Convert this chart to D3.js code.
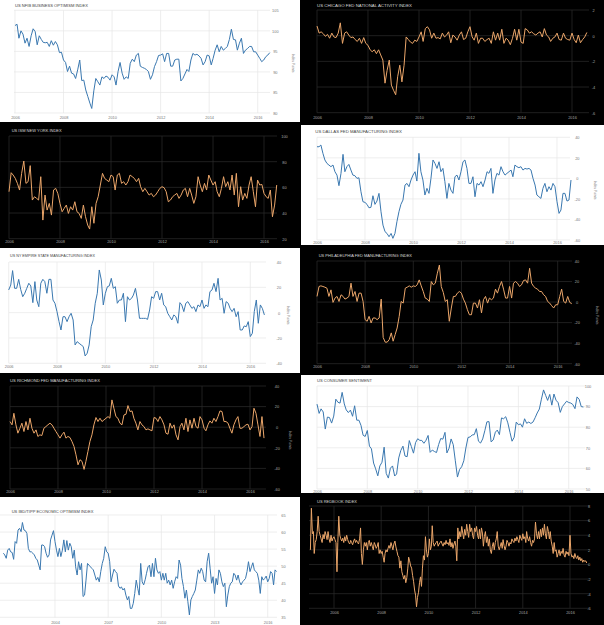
<!DOCTYPE html>
<html><head><meta charset="utf-8">
<script src="https://cdn.jsdelivr.net/npm/d3@7"></script>
<style>
html,body{margin:0;padding:0;background:#000;}
svg{display:block;}
</style>
</head><body>
<svg id="c" width="604" height="625"></svg>
<script>
// ---------------- DATA ----------------
// US NFIB Business Optimism Index, monthly from Jan 2006
const nfib = [101.3,101.6,98.2,100.0,99.2,97.0,98.2,96.2,98.8,100.5,99.8,96.6,
 98.8,97.9,97.2,97.1,97.2,96.2,97.6,96.5,97.4,96.6,94.7,94.8,
 92.9,92.3,90.1,91.4,89.7,89.5,88.4,90.5,92.9,87.9,88.0,85.6,
 84.0,82.4,81.1,85.4,88.4,87.6,86.8,88.8,88.4,89.0,88.7,88.0,
 89.3,88.8,86.8,90.1,92.3,89.7,88.2,88.8,88.4,92.1,93.1,92.5,
 94.1,94.5,91.4,91.1,90.9,90.6,90.1,88.2,89.3,91.3,92.5,94.0,
 94.1,94.4,92.5,94.5,94.5,91.4,91.4,92.9,93.1,93.1,87.8,88.4,
 89.5,90.6,90.1,92.9,94.5,94.1,94.3,93.9,93.3,91.7,92.5,94.1,
 93.9,91.7,93.3,95.3,96.6,94.9,96.2,95.3,95.7,96.2,97.9,100.4,
 97.9,97.8,95.3,97.0,98.2,94.5,95.3,95.7,96.2,96.2,94.9,94.9,
 94.1,93.3,92.5,92.9,93.7,94.1,94.7];
// US Chicago Fed National Activity Index, monthly from Jan 2006
const cfnai = [0.75,0.2,0.3,0.15,-0.05,0.1,-0.2,0.2,-0.1,-0.15,0.2,1.0,
 -0.6,0.2,0.3,0.05,-0.15,-0.1,-0.3,-0.45,-0.2,-0.6,-0.15,-0.6,
 -0.75,-1.1,-1.25,-1.1,-1.4,-1.1,-1.5,-1.9,-3.7,-2.7,-1.9,-3.85,
 -4.25,-4.6,-3.2,-2.3,-3.6,-2.3,-0.1,-0.3,-0.5,-0.6,-0.35,-0.45,
 -0.1,0.3,-0.45,0.55,0.7,0.45,-0.2,0.2,-0.2,-0.15,-0.25,0.2,
 -0.1,0.05,0.3,-0.55,0.05,-0.1,-0.35,0.05,0.3,-0.3,-0.2,0.3,
 0.7,-0.1,-0.35,0.2,-0.6,-0.2,-0.2,-0.45,-0.3,-0.2,-0.6,0.3,
 -0.35,0.2,-0.35,0.5,-0.6,-0.2,-0.35,-0.7,-0.2,0.5,-0.35,0.5,
 -0.5,-0.6,0.55,0.45,0.2,0.3,0.15,0.05,0.2,0.3,-0.1,0.55,
 0.05,-0.1,-0.45,-0.2,-0.1,0.2,-0.3,-0.35,0.2,-0.2,-0.3,-0.35,
 0.2,-0.3,-0.55,0.05,-0.55,-0.3,-0.1,0.25];
// US ISM New York Index, monthly from Jan 2006
const ismNY = [56.6,71.4,69.6,67.0,63.1,57.9,70.9,80.5,63.1,64.4,76.9,50.1,
 52.7,51.4,50.1,68.3,34.5,54.0,42.3,47.5,38.4,57.9,59.2,55.3,
 47.5,41.0,43.6,46.2,39.7,44.9,42.3,48.8,41.0,39.7,35.8,46.2,
 37.1,30.6,27.5,44.9,32.0,47.5,52.7,61.8,70.9,67.0,65.7,64.4,
 69.6,68.3,57.9,69.6,70.9,63.1,64.4,61.8,64.4,69.6,68.3,67.0,
 64.4,67.0,60.5,56.6,59.2,56.6,54.0,55.3,52.7,54.0,56.6,59.2,
 60.5,59.7,56.6,48.8,50.1,52.7,54.0,55.3,51.4,54.0,57.9,59.2,
 52.7,59.2,54.0,47.5,52.7,68.3,61.8,56.6,63.1,57.9,69.6,65.7,
 61.8,64.4,56.6,52.7,59.2,68.3,60.5,64.4,57.9,69.6,54.0,70.9,
 44.9,60.5,50.1,55.3,51.4,61.8,68.3,56.6,44.9,65.7,61.8,62.3,
 55.3,52.7,51.4,57.9,37.1,46.2,61.8];
// US Dallas Fed Manufacturing Index, monthly from Jan 2006
const dallas = [30.8,30.8,32.5,24.4,17.9,14.6,13.0,11.4,13.0,6.5,3.2,-7.1,
 4.9,23.4,6.5,11.4,13.6,8.1,3.2,2.6,0,0.6,-13.0,-22.7,
 -23.4,-25.3,-28.6,-28.2,-16.9,-25.3,-22.1,-14.6,-32.5,-45.5,-51.9,-53.6,
 -56.8,-53.6,-58.4,-53.6,-42.2,-32.5,-25.3,-21.1,-6.5,-4.9,-8.1,-1.6,
 3.2,6.5,-2.6,24.4,6.5,-1.6,-16.2,-9.7,-14.6,0,17.9,14.6,
 9.7,16.2,6.5,9.7,-3.2,-19.5,-4.9,-11.4,-14.6,1.6,3.2,-1.6,
 6.5,16.2,17.9,9.7,-4.9,-4.9,1.6,-17.9,-4.9,-6.5,-3.2,-8.1,
 -1.6,6.5,4.9,9.7,-14.6,-1.6,4.9,3.2,11.4,6.5,3.2,4.9,
 6.5,8.1,1.6,13.0,11.4,10.4,11.4,8.1,9.7,9.1,9.7,8.1,
 0,-6.5,-16.2,-17.9,-19.5,-9.7,-4.9,-13.0,-8.1,-11.4,-4.9,-8.1,
 -22.7,-34.1,-30.8,-14.6,-14.6,-22.1,-21.1,-1.6];
// US NY Empire State Manufacturing Index, monthly from Jan 2006
const empire = [17.9,21.8,33.2,19.2,19.2,26.3,18.4,12.6,15.3,19.2,23.2,21.1,
 7.9,24.5,10.0,4.7,23.2,26.3,24.5,15.3,26.3,26.3,10.0,7.4,
 0.8,-7.1,-13.7,-3.2,-3.2,-7.1,-3.2,-0.5,-5.8,-25.5,-22.9,-24.2,
 -25.5,-26.8,-34.2,-32.1,-25.5,-11.1,-5.8,7.4,15.3,33.7,25.8,6.1,
 15.3,20.5,21.1,27.1,19.2,20.5,7.4,10.0,10.0,15.3,-7.1,12.6,
 10.0,11.3,13.9,19.2,10.0,-4.5,-4.5,-4.5,-4.5,-5.3,2.1,12.6,
 11.3,16.6,16.6,10.0,15.3,6.1,4.7,-0.5,-3.2,-5.8,-1.8,-3.2,
 -8.4,7.9,6.1,0.8,7.4,8.7,6.1,3.4,4.7,0.8,6.1,4.7,
 10.0,3.4,6.1,4.7,16.6,17.9,23.2,16.6,27.1,10.0,11.3,-0.5,
 8.7,7.4,3.4,0.8,3.4,-3.2,0.8,-13.7,-13.7,-10.5,-11.1,-7.1,
 -18.9,-16.3,0.8,10.0,-8.4,6.1,3.4,-1.8];
// US Philadelphia Fed Manufacturing Index, monthly from Jan 2006
const philly = [5.5,15.2,15.8,15.2,14.5,13.5,5.5,11.9,-0.3,3.9,5.5,0.6,
 7.1,5.5,2.9,3.9,5.5,18.4,5.5,10.3,0.6,8.7,8.7,0.6,
 -17.1,-18.7,-13.9,-20.3,-15.5,-15.5,-17.1,-15.5,2.9,-34.5,-39.0,-39.0,
 -36.5,-30.0,-38.1,-31.6,-25.2,-13.9,0.6,-1.0,13.5,14.5,15.8,14.5,
 15.8,15.2,16.8,21.6,15.8,10.3,3.9,2.9,0.6,20.0,16.8,18.4,
 28.1,36.1,15.2,9.4,0.6,2.3,-18.7,-5.8,5.5,5.5,8.7,10.3,
 8.7,2.9,-1.0,-7.4,-12.3,-12.3,-1.0,-1.0,-5.8,2.3,-10.6,2.3,
 5.5,-1.0,3.9,2.3,3.9,12.6,8.7,15.2,20.0,12.6,3.9,3.9,
 15.2,3.9,18.4,20.0,18.4,15.2,16.8,21.0,21.6,18.4,32.9,18.4,
 15.2,13.5,12.6,10.3,10.3,7.1,5.5,0.6,-1.0,-3.5,-5.8,-2.6,
 -2.6,5.5,12.6,0.6,-1.0,5.5,-0.3,-1.6];
// US Richmond Fed Manufacturing Index, monthly from Jan 2006
const richmond = [5.5,2.3,13.5,2.3,-5.8,-1.0,3.9,-4.2,5.5,-2.6,8.7,-1.0,
 -5.8,-2.6,-9.0,-7.4,-8.1,-1.0,0.6,2.3,3.9,2.3,-1.0,-4.2,
 -7.4,-10.6,-7.4,-4.8,-10.6,-9.0,-10.0,-13.9,-18.7,-26.8,-36.5,-31.6,
 -33.2,-41.0,-33.2,-23.5,-13.9,-7.4,2.3,9.4,5.5,8.7,5.5,7.1,
 8.7,10.3,8.7,26.5,18.4,10.3,8.7,3.9,2.3,11.9,12.6,21.0,
 15.2,15.8,8.7,3.9,-2.6,5.5,2.3,0.6,-2.6,-1.6,-2.6,-3.5,
 9.4,8.7,5.5,10.3,7.1,2.3,-5.8,-6.8,3.9,-1.0,2.3,-7.4,
 -12.3,0.6,3.9,-2.6,8.7,-4.2,7.1,-1.0,8.7,0.6,-1.0,10.3,
 7.1,-1.0,-3.5,2.3,6.1,3.9,8.7,5.5,10.3,15.8,15.2,5.5,
 5.5,3.9,-1.0,-5.8,2.3,7.1,10.3,-1.0,-1.0,0.6,2.3,2.9,
 -2.6,0.6,18.4,13.5,2.3,-9.0,10.3,-10.6];
// US Consumer Sentiment, monthly from Jan 2006
const sentiment = [91.2,86.7,88.9,87.4,79.1,84.9,84.7,82.0,85.4,93.6,92.1,91.7,
 96.9,91.3,88.4,87.1,88.3,85.3,90.4,83.4,83.4,80.9,76.1,75.5,
 78.4,70.8,69.5,62.6,59.8,56.4,61.2,63.0,70.3,57.6,55.3,60.1,
 61.2,56.3,57.3,65.1,68.7,70.8,66.0,65.7,73.5,70.6,67.4,72.5,
 74.4,73.6,73.6,72.2,73.6,76.0,67.8,68.9,68.2,67.7,71.6,74.5,
 74.2,77.5,67.5,69.8,74.3,71.5,63.7,55.8,59.5,60.8,63.7,69.9,
 75.0,75.3,76.2,76.4,79.3,73.2,72.3,74.3,78.3,82.6,82.7,72.9,
 73.8,77.6,78.6,76.4,84.5,84.1,85.1,82.1,77.5,73.2,75.1,82.5,
 81.2,81.6,80.0,84.1,81.9,82.5,81.8,82.5,84.6,86.9,88.8,93.6,
 98.1,95.4,93.0,95.9,90.7,96.1,93.1,91.9,87.2,90.0,91.3,92.6,
 92.0,91.7,91.0,89.0,94.7,93.5,90.0,89.8];
// US IBD/TIPP Economic Optimism Index, monthly from Feb 2001
const ibd = [53.8,53.3,52.3,54.7,55.2,54.2,54.0,52.0,57.2,56.7,60.6,
 61.1,60.1,62.8,60.6,60.4,59.6,55.2,54.2,54.2,53.8,53.3,52.3,
 51.8,50.3,48.9,56.2,56.2,55.7,53.8,52.6,53.3,57.7,59.1,60.4,
 57.2,54.7,52.8,55.2,52.8,54.7,57.7,54.2,57.5,54.7,56.7,55.7,
 52.3,54.7,49.8,47.4,51.3,48.9,50.8,41.1,41.5,45.9,50.8,50.3,
 49.8,49.3,48.9,47.4,45.9,46.7,45.4,48.4,50.8,52.3,55.7,54.2,
 53.8,51.3,45.4,47.4,49.1,48.4,47.9,44.2,43.5,43.9,43.0,43.5,
 41.5,40.1,41.1,37.6,37.6,39.1,42.0,45.9,43.5,41.5,50.8,45.4,
 44.5,46.0,47.9,49.8,50.3,46.9,50.8,46.9,52.3,48.9,47.9,48.4,
 45.9,47.9,45.9,47.9,45.0,45.9,44.5,45.9,43.5,45.4,46.9,46.4,
 51.8,50.3,46.4,44.0,40.6,43.0,39.6,35.7,40.1,41.1,42.0,43.0,
 45.9,48.9,47.9,49.4,48.4,45.9,45.4,51.3,53.8,49.4,45.0,46.9,
 42.0,46.4,44.5,48.9,47.9,45.4,44.0,45.0,38.1,41.5,44.0,45.0,
 45.4,47.9,47.4,45.9,47.4,45.4,44.5,45.4,45.9,46.4,48.4,51.3,
 48.4,49.8,51.0,48.9,48.4,47.9,45.9,42.0,46.9,45.9,46.4,47.1,
 45.4,46.4,48.4,47.9,44.5,48.9,48.4];
// US Redbook Index (YoY %), twice a month from Jan 2005
const redbook = [2.0,7.7,4.2,4.5,1.5,3.0,3.4,4.5,6.6,4.5,4.0,3.5,3.0,4.1,3.5,4.5,4.0,3.4,4.5,3.5,3.0,4.0,3.2,3.6,
 3.8,3.4,3.0,-1.0,3.0,6.6,4.0,3.5,3.2,3.6,3.0,3.8,3.2,4.0,3.4,3.0,2.8,3.3,3.0,2.7,3.2,3.5,3.0,3.3,
 3.0,2.8,3.5,5.0,1.5,0.0,2.0,3.0,2.5,3.0,2.0,3.0,3.3,2.5,3.0,2.5,2.0,3.0,2.7,2.2,2.5,3.0,1.5,2.0,
 1.5,1.8,1.0,0.3,1.5,2.0,1.7,2.2,2.6,2.2,3.0,2.5,2.0,2.8,3.2,2.4,1.8,1.2,1.0,-0.5,0.5,-1.0,-1.5,-2.0,
 -1.5,-2.5,-1.8,-0.5,1.0,0.5,-0.2,-0.5,-1.5,-2.3,-3.5,-4.2,-5.8,-4.5,-3.8,-2.5,-1.7,-3.0,-0.5,1.2,0.6,3.8,2.0,1.0,
 1.5,3.5,2.0,2.5,5.3,3.0,2.5,2.8,3.0,3.2,2.5,2.8,3.0,3.2,2.8,2.5,3.0,2.7,3.3,2.8,3.0,2.6,3.5,2.4,
 3.0,2.2,2.8,3.2,2.5,0.5,5.0,3.5,4.5,3.8,5.2,4.3,3.5,4.8,4.0,5.5,4.5,3.7,5.5,4.5,5.0,4.0,3.5,5.0,
 4.5,5.2,4.0,3.5,4.8,3.5,5.0,4.3,2.5,3.8,4.5,3.0,3.8,2.5,3.5,2.0,1.5,2.5,3.0,2.0,3.0,3.5,4.5,2.5,
 2.0,2.5,3.0,2.2,3.4,2.6,2.0,2.5,3.3,3.0,2.5,3.0,2.8,3.5,3.2,3.0,3.6,3.2,3.8,3.4,3.0,4.0,3.6,3.3,
 4.2,3.5,3.8,3.0,4.5,3.6,3.2,3.8,3.0,2.5,3.3,3.0,3.5,5.8,4.2,3.5,4.5,3.5,4.8,3.8,5.0,4.0,5.5,4.2,
 3.5,5.2,4.5,3.5,4.5,3.2,2.5,1.5,3.0,1.8,2.0,1.0,1.5,2.0,1.2,1.8,1.5,2.2,1.3,1.0,1.8,1.4,1.7,1.2,
 4.0,1.5,1.0,1.2,0.8,1.5,1.0,0.8,1.2,0.6,1.0,0.5,0.8,0.3,0.6,0.4,0.5,0.2];

// Tick values
const nfibTicks = [80,85,90,95,100,105];
const cfnaiTicks = [-6,-4,-2,0,2];
const ismTicks = [20,40,60,80,100];
const dallasTicks = [-60,-40,-20,0,20,40];
const empireTicks = [-40,-20,0,20,40];
const fedTicks = [-60,-40,-20,0,20,40];
const sentimentTicks = [50,60,70,80,90,100];
const ibdTicks = [35,40,45,50,55,60,65];
const redbookTicks = [-6,-4,-2,0,2,4,6,8];
const evenYears = [2006,2008,2010,2012,2014,2016];
const ibdYears = [2004,2007,2010,2013,2016];

// ---------------- LAYOUT ----------------
const monthly = (arr, y, m) => arr.map((v,i)=>({date:new Date(y, m+i, 1), v}));
const semiMonthly = (arr, y) => arr.map((v,i)=>({date:new Date(y+Math.floor(i/24), Math.floor((i%24)/2), (i%2)?16:1), v}));

const panels = [
 {title:"US NFIB BUSINESS OPTIMISM INDEX", s:monthly(nfib,2006,0), dark:false, box:[0,0,300,122],
  xr:[2006,15,2016,257.7], yr:[80,113,105,10.3], yT:nfibTicks, xT:evenYears, grid:[14,270], tx:275.3, ty:118.6, tp:[15,6.6], tw:73, unit:[293,63]},
 {title:"US CHICAGO FED NATIONAL ACTIVITY INDEX", s:monthly(cfnai,2006,0), dark:true, box:[301,0,303,124],
  xr:[2006,317,2016,572], yr:[-6,112.7,2,10], yT:cfnaiTicks, xT:evenYears, grid:[317,589], tx:593.5, ty:118.6, tp:[317,6.6], tw:95},
 {title:"US ISM NEW YORK INDEX", s:monthly(ismNY,2006,0), dark:true, box:[0,124,301,124],
  xr:[2006,9,2016,264], yr:[20,238.7,100,136], yT:ismTicks, xT:evenYears, grid:[9,277], tx:284.5, ty:243.4, tp:[11.7,132.2], tw:50},
 {title:"US DALLAS FED MANUFACTURING INDEX", s:monthly(dallas,2006,0), dark:false, box:[301,125,303,120],
  xr:[2006,317,2016,557], yr:[-60,240,40,137.3], yT:dallasTicks, xT:evenYears, grid:[317,570], tx:577.3, ty:243.6, tp:[315.3,132.5], tw:86.7, unit:[595,190]},
 {title:"US NY EMPIRE STATE MANUFACTURING INDEX", s:monthly(empire,2006,0), dark:false, box:[0,248,300,125],
  xr:[2006,8.7,2016,250.3], yr:[-40,363.3,40,262], yT:empireTicks, xT:evenYears, grid:[9,266], tx:279, ty:368.1, tp:[10,257.2], tw:85, unit:[288,315]},
 {title:"US PHILADELPHIA FED MANUFACTURING INDEX", s:monthly(philly,2006,0), dark:true, box:[301,248,303,125],
  xr:[2006,317,2016,557.7], yr:[-60,363.7,40,261], yT:fedTicks, xT:evenYears, grid:[317,572], tx:577, ty:368.4, tp:[318.7,257.2], tw:93.3, unit:[597,315]},
 {title:"US RICHMOND FED MANUFACTURING INDEX", s:monthly(richmond,2006,0), dark:true, box:[0,373,301,124],
  xr:[2006,10,2016,250], yr:[-60,489,40,386], yT:fedTicks, xT:evenYears, grid:[10,266], tx:277, ty:493.1, tp:[10,382.2], tw:90, unit:[290,440]},
 {title:"US CONSUMER SENTIMENT", s:monthly(sentiment,2006,0), dark:false, box:[301,375,303,118],
  xr:[2006,317,2016,568.7], yr:[50,489,100,386], yT:sentimentTicks, xT:evenYears, grid:[317,585], tx:588, ty:493.4, tp:[317,382.2], tw:55},
 {title:"US IBD/TIPP ECONOMIC OPTIMISM INDEX", s:monthly(ibd,2001,1), dark:false, box:[0,497,300,128],
  xr:[2004,55,2016,267.7], yr:[35,617.3,65,515], yT:ibdTicks, xT:ibdYears, grid:[0,277], tx:283.5, ty:623.7, tp:[11.7,512.5], tw:81.7},
 {title:"US REDBOOK INDEX", s:semiMonthly(redbook,2005), dark:true, box:[301,497,303,128],
  xr:[2006,334,2016,570], yr:[-6,608.3,8,506], yT:redbookTicks, xT:evenYears, grid:[309,589], tx:589, ty:613.7, tp:[317,502.6], tw:40}
];

const svg = d3.select("#c");
svg.append("rect").attr("width",604).attr("height",625).attr("fill","#000");
const FONT = "'Liberation Sans', Arial, sans-serif";

panels.forEach((p,idx)=>{
  const g = svg.append("g");
  const [bx,by,bw,bh] = p.box;
  const clipId = "clip"+idx;
  svg.append("clipPath").attr("id",clipId).append("rect").attr("x",bx).attr("y",by).attr("width",bw).attr("height",bh);
  g.attr("clip-path",`url(#${clipId})`);
  g.append("rect").attr("x",bx).attr("y",by).attr("width",bw).attr("height",bh).attr("fill", p.dark ? "#000" : "#fff");

  const c = p.dark
    ? {grid:"#2c2c2c", tick:"#a8a8a8", title:"#d8d8d8", line:"#eba66a"}
    : {grid:"#e6e6e6", tick:"#777", title:"#444", line:"#3a78b0"};

  const xs = d3.scaleTime().domain([new Date(p.xr[0],0,1), new Date(p.xr[2],0,1)]).range([p.xr[1], p.xr[3]]);
  const ys = d3.scaleLinear().domain([p.yr[0], p.yr[2]]).range([p.yr[1], p.yr[3]]);
  const yMin = d3.min(p.yT), yMax = d3.max(p.yT);

  // gridlines
  g.append("g").selectAll("line.h").data(p.yT).join("line")
    .attr("x1",p.grid[0]).attr("x2",p.grid[1]).attr("y1",d=>ys(d)).attr("y2",d=>ys(d))
    .attr("stroke",c.grid).attr("stroke-width",0.7);
  g.append("g").selectAll("line.v").data(p.xT).join("line")
    .attr("x1",d=>xs(new Date(d,0,1))).attr("x2",d=>xs(new Date(d,0,1)))
    .attr("y1",ys(yMax)).attr("y2",ys(yMin))
    .attr("stroke",c.grid).attr("stroke-width",0.7);

  // y axis labels
  const yAxis = d3.axisRight(ys).tickValues(p.yT).tickSize(0).tickPadding(0).tickFormat(d=>String(d));
  const ya = g.append("g").attr("transform",`translate(${p.tx},0)`).call(yAxis);
  ya.select(".domain").remove();
  ya.attr("font-family",FONT).attr("font-size",3.9).attr("text-anchor","middle");
  ya.selectAll("text").attr("x",0).attr("dy","0.35em").attr("fill",c.tick);

  // x axis labels
  const xAxis = d3.axisBottom(xs).tickValues(p.xT.map(y=>new Date(y,0,1))).tickSize(0).tickPadding(0).tickFormat(d3.timeFormat("%Y"));
  const xa = g.append("g").attr("transform",`translate(0,${p.ty})`).call(xAxis);
  xa.select(".domain").remove();
  xa.attr("font-family",FONT).attr("font-size",3.9);
  xa.selectAll("text").attr("y",0).attr("dy","0").attr("fill",c.tick);

  // line
  const line = d3.line().x(d=>xs(d.date)).y(d=>ys(d.v));
  g.append("path").datum(p.s).attr("d",line).attr("fill","none")
    .attr("stroke",c.line).attr("stroke-width",1).attr("stroke-linejoin","round");

  // title
  svg.append("text").attr("x",p.tp[0]).attr("y",p.tp[1]).text(p.title)
    .attr("font-family",FONT).attr("font-size",4.1).attr("fill",c.title)
    .attr("textLength",p.tw).attr("lengthAdjust","spacingAndGlyphs");

  // unit label
  if (p.unit) {
    g.append("text").attr("transform",`translate(${p.unit[0]},${p.unit[1]}) rotate(90)`)
      .attr("text-anchor","middle").attr("dy","0.35em").text("Index Points")
      .attr("font-family",FONT).attr("font-size",3.4).attr("fill",c.tick);
  }
});
</script>
</body></html>
